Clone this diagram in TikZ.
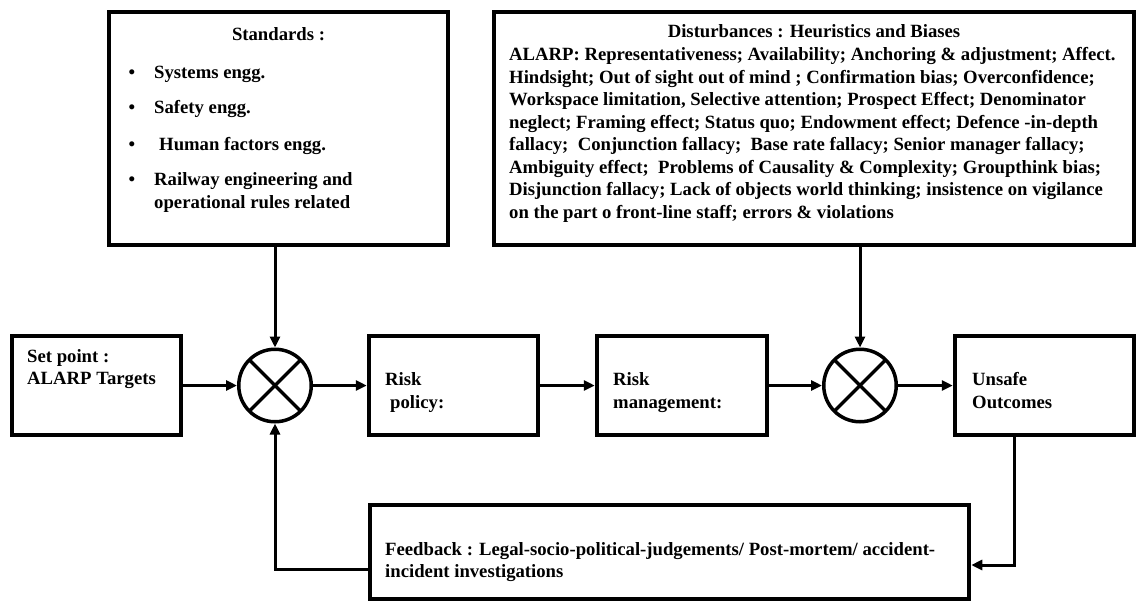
\documentclass[tikz,border=0pt]{standalone}
\usepackage{fontspec}
\setmainfont{Liberation Serif}
\usetikzlibrary{arrows.meta}

\begin{document}
\begin{tikzpicture}[x=1pt,y=-1pt,
  blk/.style={draw,rectangle,line width=4.5pt,inner sep=0pt},
  sumj/.style={draw,circle,line width=3.5pt,minimum size=72.5pt,inner sep=0pt},
  arr/.style={line width=3pt,-{Triangle[length=11pt,width=10pt]}},
  crossline/.style={line width=3.5pt,shorten >=1.5pt,shorten <=1.5pt},
  txt/.style={font=\fontsize{18.7}{22.5}\selectfont\bfseries,inner sep=0pt},
]
\useasboundingbox (0,0) rectangle (1137,603);
\fill[white] (0,0) rectangle (1137,603);

% blocks
\node[blk,minimum width=339pt,minimum height=233pt] (std)  at (278.5,128.5) {};
\node[blk,minimum width=640pt,minimum height=233pt] (dist) at (814,128.5) {};
\node[blk,minimum width=169pt,minimum height=99pt]  (sp)   at (96.5,385.5) {};
\node[blk,minimum width=169pt,minimum height=99pt]  (rp)   at (453.5,385.5) {};
\node[blk,minimum width=170pt,minimum height=99pt]  (rm)   at (682,385.5) {};
\node[blk,minimum width=179pt,minimum height=99pt]  (us)   at (1044.5,385.5) {};
\node[blk,minimum width=599pt,minimum height=94pt]  (fb)   at (669.5,552) {};

% summing junctions
\node[sumj] (j1) at (275,385.5) {};
\node[sumj] (j2) at (860,385.5) {};
\foreach \j in {j1,j2}{
  \draw[crossline] (\j.north west) -- (\j.south east);
  \draw[crossline] (\j.north east) -- (\j.south west);
}

% forward path
\draw[arr] (sp.east) -- (j1.west);
\draw[arr] (j1.east) -- (rp.west);
\draw[arr] (rp.east) -- (rm.west);
\draw[arr] (rm.east) -- (j2.west);
\draw[arr] (j2.east) -- (us.west);

% inputs from above
\draw[arr] (std.south -| j1) -- (j1.north);
\draw[arr] (dist.south -| j2) -- (j2.north);

% feedback loop
\coordinate (tap) at (1014,0);
\draw[arr] (us.south -| tap) |- ([yshift=-13pt]fb.east);
\draw[arr] ([yshift=-17pt]fb.west) -| (j1.south);

% standards
\node[txt,anchor=base] (stdt) at (278.5,40) {Standards :};
\node[txt,anchor=base] (b1) at (132,78)  {\textbullet};
\node[txt,anchor=base] (b2) at (132,113) {\textbullet};
\node[txt,anchor=base] (b3) at (132,150) {\textbullet};
\node[txt,anchor=base] (b4) at (132,185) {\textbullet};
\node[txt,anchor=base west] (s1)  at (154,78)  {Systems engg.};
\node[txt,anchor=base west] (s2)  at (154,113) {Safety engg.};
\node[txt,anchor=base west] (s3)  at (159,150) {Human factors engg.};
\node[txt,anchor=base west] (s4a) at (154,185) {Railway engineering and};
\node[txt,anchor=base west] (s4b) at (154,208) {operational rules related};

% disturbances
\node[txt,anchor=base] (distt) at (814,37) {Disturbances : Heuristics and Biases};
\node[txt,anchor=north west,align=left] (distb) at (509,47.3) {%
ALARP: Representativeness; Availability; Anchoring \& adjustment; Affect.\\
Hindsight; Out of sight out of mind ; Confirmation bias; Overconfidence;\\
Workspace limitation, Selective attention; Prospect Effect; Denominator\\
neglect; Framing effect; Status quo; Endowment effect; Defence -in-depth\\
fallacy;\ \ Conjunction fallacy;\ \ Base rate fallacy; Senior manager fallacy;\\
Ambiguity effect;\ \ Problems of Causality \& Complexity; Groupthink bias;\\
Disjunction fallacy; Lack of objects world thinking; insistence on vigilance\\
on the part o front-line staff; errors \& violations};

% block labels
\node[txt,anchor=base west] (spa) at (27,362) {Set point :};
\node[txt,anchor=base west] (spb) at (27,384) {ALARP Targets};
\node[txt,anchor=base west] (rpa) at (385,385) {Risk};
\node[txt,anchor=base west] (rpb) at (390,408) {policy:};
\node[txt,anchor=base west] (rma) at (613,385) {Risk};
\node[txt,anchor=base west] (rmb) at (613,408) {management:};
\node[txt,anchor=base west] (usa) at (972,385) {Unsafe};
\node[txt,anchor=base west] (usb) at (972,408) {Outcomes};
\node[txt,anchor=base west] (fba) at (385,555) {Feedback : Legal-socio-political-judgements/ Post-mortem/ accident-};
\node[txt,anchor=base west] (fbb) at (385,577) {incident investigations};
\end{tikzpicture}
\end{document}
